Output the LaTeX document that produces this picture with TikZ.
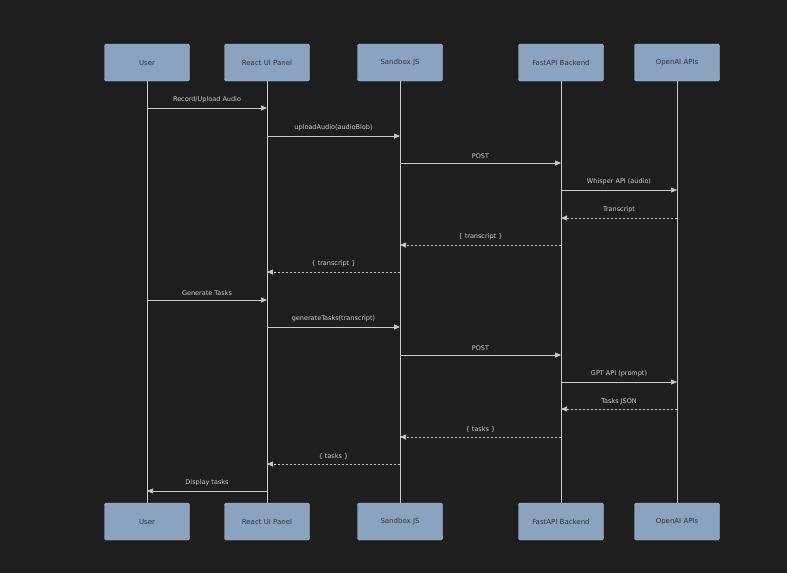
\documentclass[tikz,border=0pt]{standalone}
\usepackage{fontspec}
\setmainfont{DejaVu Sans}
\usetikzlibrary{arrows.meta}
\definecolor{bg}{HTML}{1E1E1E}
\definecolor{boxf}{HTML}{8CA3C0}
\definecolor{boxd}{HTML}{A9BBD2}
\definecolor{txt}{HTML}{2B3340}
\definecolor{ln}{HTML}{CCCCCC}
\begin{document}
\begin{tikzpicture}[x=1pt,y=-1pt,
  actor/.style={draw=boxd,fill=boxf,rounded corners=1.5pt,minimum width=85pt,minimum height=37pt,text=txt,font=\fontsize{7}{8}\selectfont},
  life/.style={draw=ln,line width=0.8pt},
  msg/.style={draw=ln,line width=0.7pt,-{Triangle[length=6pt,width=5pt]}},
  ret/.style={msg,dash pattern=on 2pt off 2pt},
  lab/.style={text=ln,font=\fontsize{6.5}{8}\selectfont,above=1pt}]
\fill[bg] (0,0) rectangle (787,573);
\useasboundingbox (0,0) rectangle (787,573);
\foreach \n/\x/\t in {u/147/User,r/267/React UI Panel,s/400/Sandbox JS,f/561/FastAPI Backend,o/677/OpenAI APIs}{
  \node[actor] (\n t) at (\x,62.5) {\t};
  \node[actor] (\n b) at (\x,521.5) {\t};
  \draw[life] (\n t) -- (\n b);
}
\foreach \y/\a/\b/\s/\t in {
108/u/r/msg/Record\slash Upload Audio,
136/r/s/msg/uploadAudio(audioBlob),
163/s/f/msg/POST /transcribe (audio),
190/f/o/msg/Whisper API (audio),
218/o/f/ret/Transcript,
245/f/s/ret/\{ transcript \},
272/s/r/ret/\{ transcript \},
300/u/r/msg/Generate Tasks,
327/r/s/msg/generateTasks(transcript),
355/s/f/msg/POST /generate-tasks (transcript),
382/f/o/msg/GPT API (prompt),
409/o/f/ret/Tasks JSON,
437/f/s/ret/\{ tasks \},
464/s/r/ret/\{ tasks \},
491/r/u/msg/Display tasks}{
  \coordinate (A) at (\a t.south |- 0,\y);
  \coordinate (B) at (\b t.south |- 0,\y);
  \draw[\s] (A) -- (B) node[midway,lab] {\t};
}
\end{tikzpicture}
\end{document}
